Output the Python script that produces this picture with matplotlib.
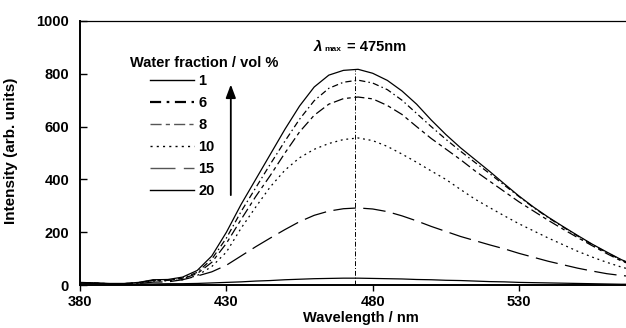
import matplotlib
matplotlib.use("Agg")
import matplotlib.pyplot as plt
from matplotlib.lines import Line2D

plt.rcParams["font.family"] = ["Liberation Sans", "DejaVu Sans"]

wavelength = [380, 385, 390, 395, 400, 405, 410, 415, 420, 425, 430, 435, 440,
              445, 450, 455, 460, 465, 470, 475, 480, 485, 490, 495, 500, 505,
              510, 515, 520, 525, 530, 535, 540, 545, 550, 555, 560, 565, 567]

water_1 = [10, 8, 6, 6, 10, 20, 21, 30, 55, 110, 200, 305, 400, 495, 590, 678,
           750, 795, 813, 817, 802, 775, 735, 685, 625, 570, 520, 475, 430, 383,
           337, 295, 257, 222, 188, 155, 125, 96, 87]
water_6 = [9, 7, 5, 5, 9, 18, 19, 26, 48, 98, 178, 278, 368, 458, 545, 628,
           698, 745, 768, 776, 765, 740, 700, 650, 600, 552, 507, 464, 422, 378,
           335, 293, 255, 220, 186, 153, 123, 94, 85]
water_8 = [9, 7, 5, 5, 9, 18, 18, 24, 43, 86, 158, 248, 335, 415, 500, 580,
           643, 685, 706, 712, 705, 680, 646, 600, 555, 515, 475, 432, 393, 354,
           315, 280, 245, 212, 180, 149, 119, 91, 83]
water_10 = [8, 7, 5, 5, 8, 15, 16, 20, 36, 70, 125, 215, 295, 372, 435, 482,
            514, 536, 551, 557, 547, 525, 496, 465, 432, 400, 362, 325, 293, 262,
            232, 205, 178, 153, 128, 106, 86, 68, 62]
water_15 = [8, 6, 5, 4, 6, 11, 12, 20, 34, 50, 75, 110, 145, 178, 210, 240,
            264, 280, 289, 292, 288, 278, 262, 243, 222, 203, 184, 168, 152, 137,
            120, 105, 90, 77, 64, 53, 43, 36, 34]
water_20 = [8, 6, 5, 4, 4, 4, 5, 5, 6, 8, 10, 12, 15, 17, 20, 22, 24, 25, 26,
            26, 25, 24, 23, 21, 20, 18, 17, 15, 13, 12, 10, 9, 8, 7, 6, 5, 4, 3, 3]

fractions = ["1", "6", "8", "10", "15", "20"]
series = [water_1, water_6, water_8, water_10, water_15, water_20]
line_styles = [
    "-",
    (0, (5, 2.5, 1.2, 2.5)),
    (0, (8, 3, 3, 3)),
    (0, (1.5, 3)),
    (0, (18, 6)),
    "-",
]

lambda_max = 474
peak_height = 815

fig = plt.figure(figsize=(6.26, 3.28), dpi=100)
ax = fig.add_axes([0.128, 0.131, 0.874, 0.805])

for values, style in zip(series, line_styles):
    ax.plot(wavelength, values, color="black", linestyle=style, linewidth=0.9)

ax.plot([lambda_max, lambda_max], [0, peak_height], color="black",
        linestyle=(0, (5, 2, 1, 2)), linewidth=0.7)

ax.set_xlim(380, 567)
ax.set_ylim(0, 1000)
ax.set_xticks([380, 430, 480, 530])
ax.set_yticks(range(0, 1001, 200))

for side in ["left", "bottom"]:
    ax.spines[side].set_linewidth(1.4)
ax.spines["top"].set_linewidth(0.9)
ax.spines["right"].set_visible(False)

ax.tick_params(axis="x", direction="out", length=4, width=1.0, pad=3,
               labelsize=10.5)
ax.tick_params(axis="y", direction="in", length=5, width=1.0, pad=8,
               labelsize=10.5)
for label in ax.get_xticklabels() + ax.get_yticklabels():
    label.set_fontweight("bold")

ax.set_xlabel("Wavelength / nm", fontsize=10.5, fontweight="bold")
ax.xaxis.set_label_coords(0.513, -0.098)
ax.set_ylabel("Intensity (arb. units)", fontsize=11, fontweight="bold")
ax.yaxis.set_label_coords(-0.113, 0.51)

handles = [Line2D([], [], color="black", linestyle=style, linewidth=1.0)
           for style in line_styles]
handles[1].set_linewidth(1.6)
handles[2].set_color("#555555")
handles[4].set_color("#555555")
ax.legend(handles, fractions, loc="upper left", bbox_to_anchor=(0.128, 0.80),
          frameon=False, borderpad=0, borderaxespad=0, handlelength=3.0,
          handletextpad=0.3, labelspacing=0.55,
          prop={"weight": "bold", "size": 10.5})

ax.text(0.092, 0.841, "Water fraction / vol %", transform=ax.transAxes,
        fontsize=10.5, fontweight="bold", ha="left", va="center")

ax.annotate("", xy=(431.5, 770), xytext=(431.5, 330),
            arrowprops=dict(arrowstyle="-|>,head_length=0.8,head_width=0.3",
                            color="black", linewidth=1.3))

ax.annotate("λ", xy=(459.8, 901), fontsize=11, fontweight="bold",
            fontstyle="italic", ha="left", va="center")
ax.annotate("max", xy=(459.8, 901), xytext=(8, -2), textcoords="offset points",
            fontsize=6, fontweight="bold", ha="left", va="center")
ax.annotate("= 475nm", xy=(459.8, 901), xytext=(24, 0),
            textcoords="offset points", fontsize=10.5, fontweight="bold",
            ha="left", va="center")

fig.savefig("out.png", dpi=100)
